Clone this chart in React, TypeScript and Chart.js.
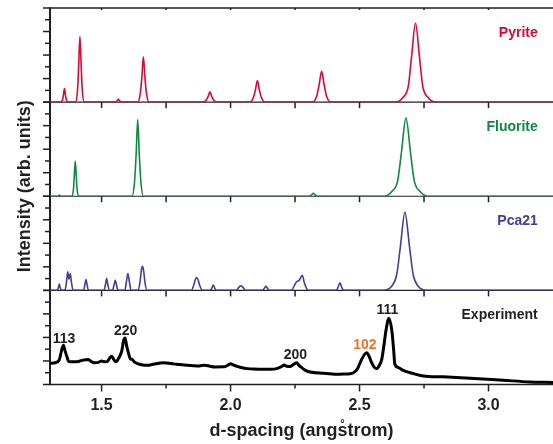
import React, { useEffect, useRef } from 'react';
import { Chart, registerables } from 'chart.js';

Chart.register(...registerables);

// ---------- data ----------
const X_MIN = 1.3;
const X_MAX = 3.25;
const X_TICK_VALUES = [1.5, 2.0, 2.5, 3.0];
const X_TICK_LABELS = ['1.5', '2.0', '2.5', '3.0'];
const X_MINOR_VALUES = [1.75, 2.25, 2.75];
const Y_TICK_VALUES = [0, 1, 2, 3, 4, 5, 6, 7, 8];

const PANEL_NAMES = ['Pyrite', 'Fluorite', 'Pca21', 'Experiment'];
const X_TITLE = 'd-spacing (angs\u030Atrom)';
const Y_TITLE = 'Intensity (arb. units)';

// [d-spacing, intensity]
const PYRITE: [number, number][] = [
  [1.300, 0], [1.342, 0], [1.349, 0.22], [1.352, 0.6], [1.356, 1.15], [1.360, 0.6], [1.363, 0.22], [1.370, 0],
  [1.399, 0], [1.407, 1.1], [1.411, 3.0], [1.416, 5.58], [1.421, 3.0], [1.425, 1.1], [1.433, 0],
  [1.555, 0], [1.560, 0.12], [1.565, 0.25], [1.570, 0.12], [1.575, 0],
  [1.640, 0], [1.650, 0.75], [1.656, 2.1], [1.662, 3.85], [1.668, 2.1], [1.674, 0.75], [1.684, 0],
  [1.894, 0], [1.906, 0.18], [1.913, 0.48], [1.920, 0.87], [1.927, 0.48], [1.934, 0.18], [1.946, 0],
  [2.075, 0], [2.088, 0.37], [2.096, 1.0], [2.104, 1.83], [2.112, 1.0], [2.120, 0.37], [2.133, 0],
  [2.318, 0], [2.334, 0.52], [2.343, 1.43], [2.353, 2.61], [2.363, 1.43], [2.372, 0.52], [2.388, 0],
  [2.640, 0], [2.668, 0.4], [2.689, 1.35], [2.701, 3.7], [2.717, 6.71], [2.733, 3.7], [2.745, 1.35], [2.766, 0.4], [2.795, 0],
  [3.250, 0],
];

const FLUORITE: [number, number][] = [
  [1.300, 0], [1.330, 0], [1.336, 0.1], [1.342, 0],
  [1.384, 0], [1.391, 0.6], [1.394, 1.65], [1.398, 3.0], [1.402, 1.65], [1.405, 0.6], [1.412, 0],
  [1.618, 0], [1.628, 1.3], [1.634, 3.6], [1.640, 6.5], [1.646, 3.6], [1.652, 1.3], [1.662, 0],
  [2.306, 0], [2.314, 0.12], [2.321, 0.25], [2.328, 0.12], [2.336, 0],
  [2.595, 0], [2.625, 0.4], [2.648, 1.33], [2.662, 3.65], [2.680, 6.64], [2.698, 3.65], [2.712, 1.33], [2.735, 0.4], [2.765, 0],
  [3.250, 0],
];

const PCA21: [number, number][] = [
  [1.300, 0], [1.327, 0], [1.333, 0.27], [1.336, 0.53], [1.339, 0.27], [1.345, 0],
  [1.358, 0], [1.364, 0.75], [1.3686, 1.57], [1.3735, 0.95], [1.3787, 1.43], [1.383, 0.7], [1.390, 0],
  [1.430, 0], [1.435, 0.45], [1.4395, 0.93], [1.444, 0.45], [1.449, 0],
  [1.509, 0], [1.515, 0.5], [1.5196, 1.0], [1.524, 0.5], [1.530, 0],
  [1.542, 0], [1.548, 0.43], [1.553, 0.87], [1.558, 0.43], [1.564, 0],
  [1.590, 0], [1.596, 0.7], [1.602, 1.43], [1.608, 0.7], [1.614, 0],
  [1.642, 0], [1.650, 0.9], [1.655, 1.85], [1.659, 2.05], [1.664, 1.5], [1.668, 0.7], [1.676, 0],
  [1.848, 0], [1.858, 0.5], [1.864, 0.95], [1.8685, 1.09], [1.874, 0.9], [1.880, 0.45], [1.890, 0],
  [1.921, 0], [1.928, 0.22], [1.933, 0.45], [1.938, 0.22], [1.945, 0],
  [2.022, 0], [2.032, 0.25], [2.040, 0.39], [2.048, 0.25], [2.058, 0],
  [2.124, 0], [2.131, 0.18], [2.137, 0.34], [2.143, 0.18], [2.150, 0],
  [2.236, 0], [2.248, 0.45], [2.256, 0.73], [2.266, 0.85], [2.278, 1.29], [2.286, 0.65], [2.294, 0.2], [2.302, 0],
  [2.410, 0], [2.418, 0.33], [2.424, 0.65], [2.430, 0.33], [2.438, 0],
  [2.591, 0], [2.626, 0.4], [2.644, 1.33], [2.658, 3.65], [2.676, 6.63], [2.694, 3.65], [2.708, 1.33], [2.726, 0.4], [2.761, 0],
  [3.250, 0],
];

const EXPERIMENT: [number, number][] = [
  [1.300, 1.80], [1.320, 1.85], [1.336, 2.1], [1.345, 2.9], [1.352, 3.34], [1.358, 2.9], [1.365, 2.4], [1.373, 1.95],
  [1.390, 1.93], [1.410, 1.95], [1.424, 2.05], [1.449, 2.13], [1.460, 1.95], [1.474, 1.85], [1.487, 1.88], [1.500, 1.99],
  [1.510, 1.94], [1.522, 1.95], [1.533, 2.3], [1.539, 2.41], [1.548, 2.1], [1.555, 1.94], [1.568, 2.3], [1.578, 2.83],
  [1.585, 3.7], [1.591, 3.96], [1.597, 3.3], [1.604, 2.69], [1.611, 2.19], [1.618, 2.13], [1.628, 1.9], [1.640, 1.77],
  [1.660, 1.65], [1.678, 1.63], [1.700, 1.72], [1.740, 1.85], [1.770, 1.78], [1.790, 1.72], [1.820, 1.66], [1.855, 1.6],
  [1.875, 1.57], [1.888, 1.62], [1.900, 1.64], [1.920, 1.55], [1.940, 1.49], [1.975, 1.5], [1.990, 1.65], [2.000, 1.77],
  [2.012, 1.65], [2.026, 1.54], [2.045, 1.42], [2.065, 1.35], [2.090, 1.31], [2.130, 1.29], [2.153, 1.29], [2.179, 1.35],
  [2.200, 1.55], [2.207, 1.66], [2.218, 1.55], [2.230, 1.52], [2.245, 1.72], [2.256, 1.85], [2.266, 1.6], [2.276, 1.43],
  [2.290, 1.2], [2.308, 1.07], [2.359, 0.95], [2.411, 0.87], [2.450, 0.9], [2.469, 0.93], [2.480, 1.05], [2.491, 1.29],
  [2.508, 2.13], [2.5275, 2.69], [2.537, 2.4], [2.547, 1.85], [2.556, 1.5], [2.566, 1.35], [2.576, 1.6], [2.586, 2.13],
  [2.595, 3.4], [2.602, 4.52], [2.614, 5.64], [2.6256, 4.52], [2.632, 3.0], [2.637, 1.71], [2.650, 1.45], [2.669, 1.20],
  [2.708, 0.93], [2.747, 0.73], [2.824, 0.65], [2.928, 0.53], [3.057, 0.36], [3.160, 0.22], [3.250, 0.17],
];

const PEAK_LABELS = ['113', '220', '200', '102', '111'];
const PEAK_LABEL_D = [1.354, 1.593, 2.251, 2.521, 2.608];
const PEAK_LABEL_I = [3.87, 4.57, 2.47, 3.31, 6.34];

const PANEL_LABEL_D = 3.191;
const PANEL_LABEL_I = 5.9;

// ---------- styles ----------
const FONT = '"Liberation Sans", Arial, Helvetica, sans-serif';
const INK = '#231f20';
const COLORS = ['#e0062d', '#0d8a3c', '#3f3f99', '#000000'];
const PEAK_LABEL_COLORS = [INK, INK, INK, '#f26f21', INK];
const Y_IDS = ['yPyr', 'yFlu', 'yPca', 'yExp'];

const panelPlugin = {
  id: 'panelDecor',
  beforeDatasetsDraw(chart: any) {
    const { ctx, chartArea, scales } = chart;
    const xs = scales.x;
    const left = chartArea.left;
    const right = chartArea.right;
    const allX = [...X_TICK_VALUES, ...X_MINOR_VALUES];
    ctx.save();
    ctx.strokeStyle = INK;
    ctx.lineCap = 'butt';
    const seg = (x1: number, y1: number, x2: number, y2: number, w: number) => {
      ctx.lineWidth = w;
      ctx.beginPath();
      ctx.moveTo(x1, y1);
      ctx.lineTo(x2, y2);
      ctx.stroke();
    };
    // top border
    const topY = scales[Y_IDS[0]].getPixelForValue(8);
    seg(left, topY, right + 2, topY, 1.6);
    allX.forEach((v) => {
      const px = xs.getPixelForValue(v);
      seg(px, topY, px, topY + 2, 1.5);
    });
    Y_IDS.forEach((id, i) => {
      const s = scales[id];
      const yb = s.getPixelForValue(0);
      const last = i === Y_IDS.length - 1;
      seg(left, yb, right + 2, yb, last ? 1.6 : 1.2);
      allX.forEach((v) => {
        const px = xs.getPixelForValue(v);
        const major = X_TICK_VALUES.includes(v);
        const len = last ? (major ? 7 : 4) : 6;
        seg(px, yb, px, yb + len, 1.5);
      });
      Y_TICK_VALUES.forEach((v) => {
        const py = s.getPixelForValue(v);
        const len = v % 2 === 0 ? 7 : 5;
        seg(left - len, py, left, py, 1.5);
      });
    });
    // left axis
    const botY = scales[Y_IDS[Y_IDS.length - 1]].getPixelForValue(0);
    seg(left, topY - 0.8, left, botY + 0.8, 2);
    ctx.restore();
  },
  afterDatasetsDraw(chart: any) {
    const { ctx, chartArea, scales } = chart;
    const xs = scales.x;
    ctx.save();
    ctx.font = `bold 14px ${FONT}`;
    ctx.textBaseline = 'middle';
    ctx.textAlign = 'right';
    PANEL_NAMES.forEach((name, i) => {
      const s = scales[Y_IDS[i]];
      ctx.fillStyle = i === 3 ? INK : COLORS[i];
      ctx.fillText(name, xs.getPixelForValue(PANEL_LABEL_D), s.getPixelForValue(PANEL_LABEL_I));
    });
    ctx.textAlign = 'center';
    const se = scales[Y_IDS[3]];
    PEAK_LABELS.forEach((lab, i) => {
      ctx.fillStyle = PEAK_LABEL_COLORS[i];
      ctx.fillText(lab, xs.getPixelForValue(PEAK_LABEL_D[i]), se.getPixelForValue(PEAK_LABEL_I[i]));
    });
    // y title
    ctx.font = `bold 18px ${FONT}`;
    ctx.fillStyle = INK;
    const cy = (chartArea.top + chartArea.bottom) / 2 - 10;
    ctx.translate(25, cy);
    ctx.rotate(-Math.PI / 2);
    ctx.fillText(Y_TITLE, 0, 0);
    ctx.restore();
  },
};

const yScale = () => ({
  type: 'linear',
  position: 'left',
  stack: 'panels',
  stackWeight: 1,
  min: 0,
  max: 8,
  grid: { display: false, drawTicks: false },
  border: { display: false },
  ticks: { display: false },
});

export default function App() {
  const ref = useRef<HTMLCanvasElement | null>(null);

  useEffect(() => {
    if (!ref.current) return;
    const series = [PYRITE, FLUORITE, PCA21, EXPERIMENT];
    const chart = new Chart(ref.current, {
      type: 'line',
      data: {
        datasets: series.map((pts, i) => ({
          label: PANEL_NAMES[i],
          data: pts.map(([d, v]) => ({ x: d, y: v })),
          yAxisID: Y_IDS[i],
          borderColor: COLORS[i],
          borderWidth: i === 3 ? 3 : 1.6,
          pointRadius: 0,
          fill: false,
          cubicInterpolationMode: 'monotone',
          borderJoinStyle: 'round',
        })),
      },
      options: {
        animation: false,
        responsive: false,
        maintainAspectRatio: false,
        layout: { padding: { top: 8, left: 50, right: 0, bottom: 0 } },
        plugins: { legend: { display: false }, tooltip: { enabled: false } },
        scales: {
          x: {
            type: 'linear',
            position: 'bottom',
            min: X_MIN,
            max: X_MAX,
            afterBuildTicks: (s: any) => {
              s.ticks = X_TICK_VALUES.map((v) => ({ value: v }));
            },
            ticks: {
              callback: (_v: any, idx: number) => X_TICK_LABELS[idx],
              font: { family: FONT, size: 16, weight: 'bold' },
              color: INK,
              padding: 4.7,
              maxRotation: 0,
              autoSkip: false,
            },
            grid: { drawOnChartArea: false, drawTicks: true, tickLength: 7, color: 'rgba(0,0,0,0)' },
            border: { display: false },
            title: {
              display: true,
              text: X_TITLE,
              color: INK,
              font: { family: FONT, size: 18, weight: 'bold' },
              padding: { top: 0.3, bottom: 2 },
            },
          },
          yExp: yScale(),
          yPca: yScale(),
          yFlu: yScale(),
          yPyr: yScale(),
        } as any,
      },
      plugins: [panelPlugin],
    } as any);
    return () => chart.destroy();
  }, []);

  return (
    <div style={{ position: 'fixed', left: 0, top: 0, width: 553, height: 444, background: '#fff' }}>
      <canvas ref={ref} width={553} height={444} style={{ display: 'block' }} />
    </div>
  );
}
